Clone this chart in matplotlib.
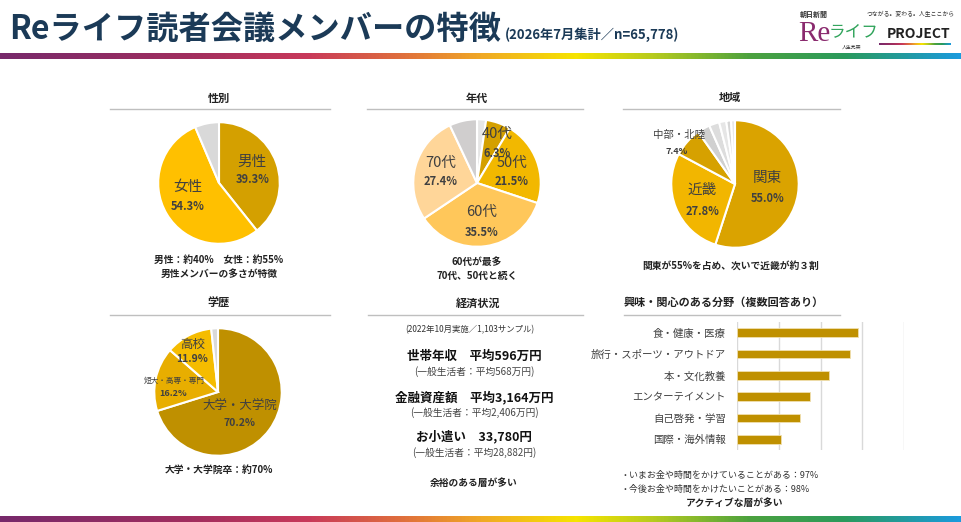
import numpy as np
import matplotlib
matplotlib.use('Agg')
import matplotlib.pyplot as plt
from matplotlib.colors import LinearSegmentedColormap

plt.rcParams['font.family'] = ['Noto Sans CJK JP', 'DejaVu Sans']

#%% data
gender_labels = ['男性', '女性', 'その他']
gender_values = [39.3, 54.3, 6.4]

age_labels = ['20代以下', '40代', '50代', '60代', '70代', '80代以上']
age_values = [2.3, 6.3, 21.5, 35.5, 27.4, 7.0]

region_labels = ['関東', '近畿', '中部・北陸', '九州', '東海', '中国', '北海道', 'その他']
region_values = [55.0, 27.8, 7.4, 3.2, 2.6, 1.8, 1.2, 1.0]

edu_labels = ['大学・大学院', '短大・高専・専門', '高校', 'その他']
edu_values = [70.2, 16.2, 11.9, 1.7]

interest_labels = ['食・健康・医療', '旅行・スポーツ・アウトドア', '本・文化教養',
                   'エンターテイメント', '自己啓発・学習', '国際・海外情報']
interest_values = [58, 54, 44, 35, 30, 21]

#%% figure
W, H = 961, 522
fig = plt.figure(figsize=(W/100, H/100), dpi=100)
fig.patch.set_facecolor('white')

def px(x, y):
    return x/W, 1 - y/H

def add_ax(x0, y0, w, h):
    return fig.add_axes([x0/W, 1-(y0+h)/H, w/W, h/H])

def ftext(x, y, s, **kw):
    fig.text(*px(x, y), s, **kw)

# title
ftext(9, 29, 'Reライフ読者会議メンバーの特徴', fontsize=23.2, fontweight='bold',
      color='#1B3A57', va='center', ha='left')
ftext(505, 35, '(2026年7月集計／n=65,778)', fontsize=9.5, fontweight='bold',
      color='#1B3A57', va='center', ha='left')

# gradient strips
grad = LinearSegmentedColormap.from_list('strip', [
    (0.0, '#77296B'), (0.2, '#A22E5E'), (0.32, '#C8395A'), (0.42, '#E0703C'),
    (0.5, '#F0A826'), (0.6, '#F6E400'), (0.68, '#B7CB1E'), (0.78, '#4DA23E'),
    (0.88, '#2A9A5C'), (1.0, '#1B9BDD')])
for y0, h in [(53, 6), (516, 6)]:
    gax = add_ax(0, y0, W, h)
    gax.imshow(np.linspace(0, 1, 512)[None, :], aspect='auto', cmap=grad)
    gax.axis('off')

# logo
ftext(800, 14, '朝日新聞', fontsize=5, fontweight='bold', color='#333333', va='center')
ftext(867, 14, 'つながる。変わる。人生ここから', fontsize=4.2, color='#333333', va='center')
ftext(798, 34, 'Re', fontsize=21, family='Liberation Serif', color='#8A2A6E', va='center')
ftext(829, 32, 'ライフ', fontsize=12, fontstyle='italic', color='#2FA35A', va='center')
ftext(887, 34, 'PROJECT', fontsize=10, fontweight='bold', color='#222222', va='center')
ftext(842, 47, '人生充実', fontsize=3.5, color='#333333', va='center')
lax = add_ax(879, 43, 72, 2)
lax.imshow(np.linspace(0, 1, 128)[None, :], aspect='auto', cmap=grad)
lax.axis('off')

# section headers with underline
def header(cx, y, s, x0, x1, yline):
    ftext(cx, y, s, fontsize=8, fontweight='bold', color='#222222', ha='center', va='center')
    fig.add_artist(plt.Line2D([x0/W, x1/W], [1-yline/H, 1-yline/H], color='#BFBFBF', lw=1))

header(219, 98, '性別', 110, 330, 109)
header(477, 98, '年代', 367, 583, 109)
header(730, 98, '地域', 623, 840, 109)
header(219, 303, '学歴', 110, 330, 315)
header(478, 303, '経済状況', 368, 583, 315)
header(724, 302, '興味・関心のある分野（複数回答あり）', 624, 840, 315)

#%% pies
def pie(cx, cy, r, values, colors):
    ax = add_ax(cx-r, cy-r, 2*r, 2*r)
    ax.pie(values, colors=colors, startangle=90, counterclock=False, radius=1,
           wedgeprops=dict(edgecolor='white', linewidth=1.5))
    ax.set_xlim(-1.02, 1.02)
    ax.set_ylim(-1.02, 1.02)
    ax.set_aspect('equal')
    ax.axis('off')
    return ax

lab = dict(color='#404040', ha='center', va='center')

ax = pie(219, 183, 62, gender_values, ['#D4A000', '#FFC000', '#D9D9D9'])
ax.text(0.55, 0.34, gender_labels[0], fontsize=10.5, **lab)
ax.text(0.55, 0.05, f'{gender_values[0]}%', fontsize=8, fontweight='bold', **lab)
ax.text(-0.52, -0.06, gender_labels[1], fontsize=10.5, **lab)
ax.text(-0.52, -0.39, f'{gender_values[1]}%', fontsize=8, fontweight='bold', **lab)

ax = pie(477, 183, 65, age_values,
         ['#E6E6E6', '#D4A000', '#F2B800', '#FFC75A', '#FFD699', '#D0CECE'])
for i, (lx, ly, px_, py_) in zip([1, 2, 3, 4], [(0.31, 0.77, 0.31, 0.46), (0.55, 0.32, 0.54, 0.02),
                                                (0.08, -0.46, 0.08, -0.77), (-0.57, 0.32, -0.57, 0.02)]):
    ax.text(lx, ly, age_labels[i], fontsize=10.5, **lab)
    ax.text(px_, py_, f'{age_values[i]}%', fontsize=8, fontweight='bold', **lab)

ax = pie(735, 184, 65, region_values,
         ['#DAA300', '#F2B600', '#D6A100', '#D0D0D0', '#DDDDDD', '#E6E6E6', '#D6D6D6', '#E8E8E8'])
ax.text(0.51, 0.09, region_labels[0], fontsize=10.5, **lab)
ax.text(0.51, -0.22, f'{region_values[0]}%', fontsize=8, fontweight='bold', **lab)
ax.text(-0.51, -0.09, region_labels[1], fontsize=10.5, **lab)
ax.text(-0.51, -0.43, f'{region_values[1]}%', fontsize=8, fontweight='bold', **lab)
ax.text(-0.88, 0.77, region_labels[2], fontsize=7.5, clip_on=False, **lab)
ax.text(-0.92, 0.51, f'{region_values[2]}%', fontsize=6.5, fontweight='bold', clip_on=False, **lab)

ax = pie(218, 392, 65, edu_values, ['#BF9000', '#E8AE00', '#F5BC00', '#D9D9D9'])
ax.text(0.34, -0.23, edu_labels[0], fontsize=9, **lab)
ax.text(0.34, -0.48, f'{edu_values[0]}%', fontsize=7.5, fontweight='bold', **lab)
ax.text(-0.69, 0.18, edu_labels[1], fontsize=5.5, **lab)
ax.text(-0.71, -0.02, f'{edu_values[1]}%', fontsize=6.5, fontweight='bold', **lab)
ax.text(-0.4, 0.75, edu_labels[2], fontsize=9, **lab)
ax.text(-0.4, 0.51, f'{edu_values[2]}%', fontsize=7.5, fontweight='bold', **lab)

# pie notes
note = dict(fontsize=7, fontweight='bold', color='#222222', ha='center', va='center')
ftext(219, 260, '男性：約40%　女性：約55%', **note)
ftext(219, 274, '男性メンバーの多さが特徴', **note)
ftext(477, 262, '60代が最多', **note)
ftext(477, 276, '70代、50代と続く', **note)
ftext(731, 266, '関東が55%を占め、次いで近畿が約３割', **note)
ftext(219, 470, '大学・大学院卒：約70%', **note)

#%% economy
ftext(470, 330, '(2022年10月実施／1,103サンプル)', fontsize=6, color='#333333', ha='center', va='center')
econ = [('世帯年収　平均596万円', '(一般生活者：平均568万円)', 356),
        ('金融資産額　平均3,164万円', '(一般生活者：平均2,406万円)', 397),
        ('お小遣い　33,780円', '(一般生活者：平均28,882円)', 437)]
for main, sub, y in econ:
    ftext(474, y, main, fontsize=9, fontweight='bold', color='#111111', ha='center', va='center')
    ftext(474, y+16, sub, fontsize=7, color='#444444', ha='center', va='center')
ftext(474, 483, '余裕のある層が多い', **note)

#%% interest bar chart
bax = add_ax(737, 322, 167, 128)
ypos = np.arange(len(interest_values))
bax.barh(ypos, interest_values, height=0.42, color='#BF9000', edgecolor='#F0E0B0', linewidth=0.6, zorder=3)
bax.set_xlim(0, 80)
bax.set_ylim(len(interest_values)-0.5, -0.5)
bax.set_xticks([0, 20, 40, 60, 80])
bax.xaxis.grid(True, color='#D9D9D9', lw=1, zorder=0)
bax.tick_params(axis='x', length=0, labelbottom=False)
bax.tick_params(axis='y', length=0, pad=8)
bax.set_yticks(ypos)
bax.set_yticklabels(interest_labels, fontsize=7.5, color='#404040')
for s in bax.spines.values():
    s.set_visible(False)

ftext(620, 475, '・いまお金や時間をかけていることがある：97%', fontsize=6.5, color='#333333', ha='left', va='center')
ftext(620, 489, '・今後お金や時間をかけたいことがある：98%', fontsize=6.5, color='#333333', ha='left', va='center')
ftext(735, 503, 'アクティブな層が多い', **note)

plt.savefig('out.png', dpi=100)
